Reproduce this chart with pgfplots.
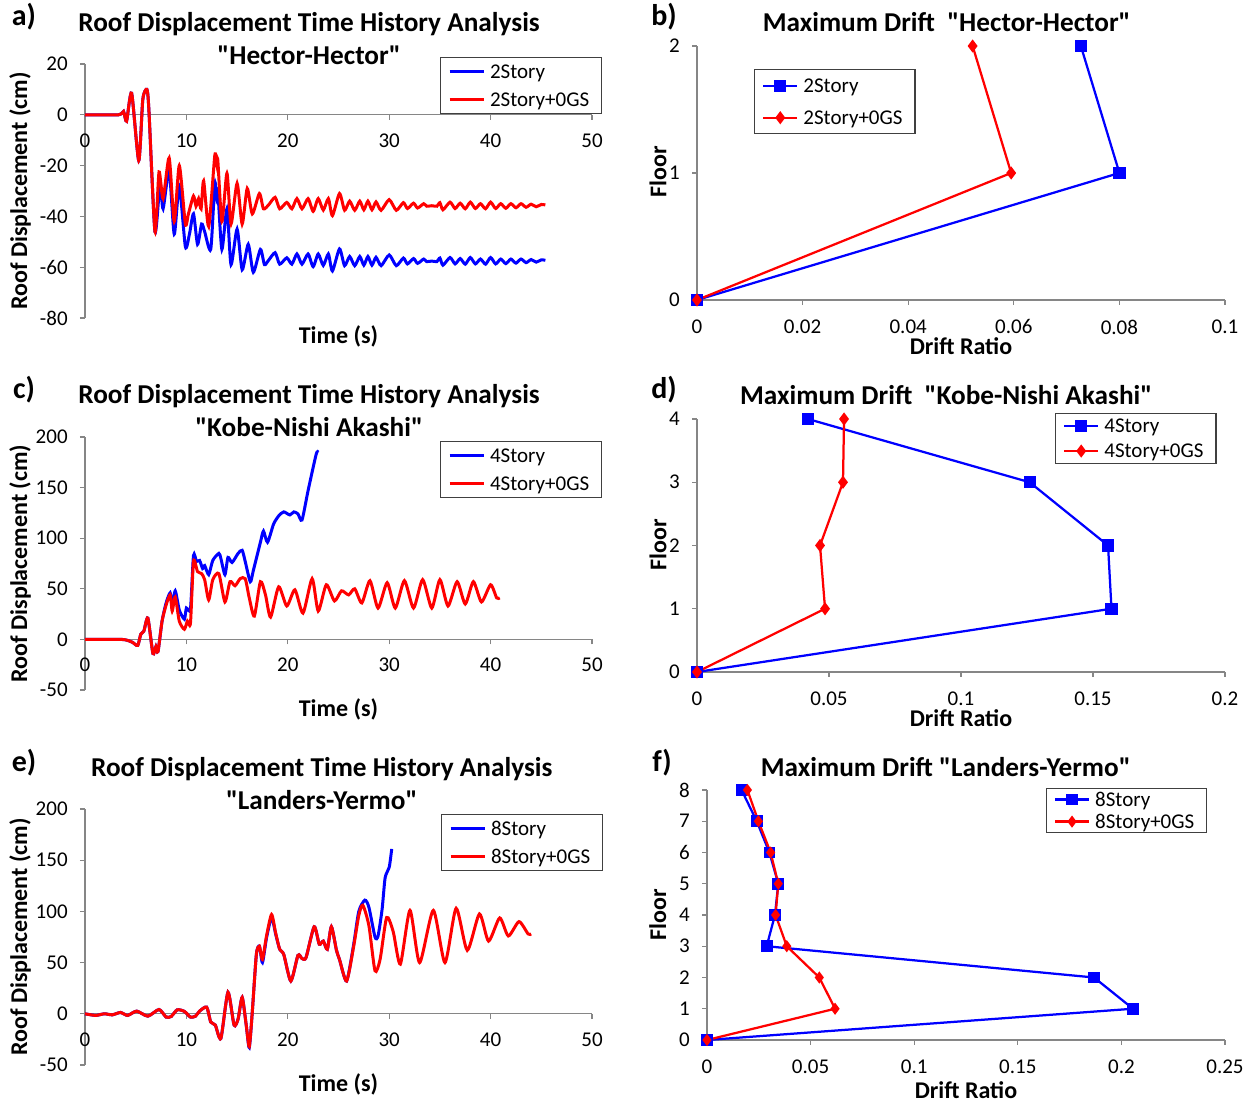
\documentclass[border=0pt]{standalone}
\usepackage{fontspec}
\setmainfont{Carlito}[Ligatures=TeXOff]
\usepackage{pgfplots}
\pgfplotsset{compat=1.18}
\definecolor{axgray}{RGB}{134,134,134}

\pgfplotsset{
  base/.style={
    scale only axis, clip=false, anchor=south west,
    axis line style={draw=axgray, line width=0.5pt},
    tick style={draw=axgray, line width=0.5pt},
    major tick length=2pt, tick align=outside,
    tick label style={font=\fontsize{8.4}{10}\selectfont, text=black},
    yticklabel style={xshift=-1.4pt},
    /pgf/number format/assume math mode=true,
    label style={font=\bfseries\fontsize{9.6}{11}\selectfont},
    every axis title shift=0pt,
    title style={font=\bfseries\fontsize{10.9}{13.2}\selectfont, align=center, anchor=center},
    legend style={draw=black!75, line width=0.5pt, fill=white, inner xsep=3pt, inner ysep=0pt,
      font=\fontsize{8.4}{10}\selectfont, anchor=north west, cells={anchor=west}, row sep=0pt},
  },
  th/.style={base, width=202.8pt, xmin=0, xmax=50, xtick={0,10,...,50},
    axis x line*=middle, axis y line*=left,
    hide obscured x ticks=false, hide obscured y ticks=false,
    xticklabel style={yshift=-2pt},
    xlabel={Time (s)}, ylabel={Roof Displacement (cm)},
    ylabel style={at={(axis description cs:-0.128,0.5)}, anchor=center},
    legend image code/.code={\draw[##1] (0pt,0pt) -- (13.6pt,0pt);},
    every axis plot/.append style={line width=1.2pt, smooth, tension=0.4, no markers},
  },
  dr/.style={base, axis x line*=bottom, axis y line*=left,
    xticklabel style={yshift=-2.4pt},
    xlabel={Drift Ratio}, ylabel={Floor},
    legend image code/.code={\draw[##1, mark repeat=2, mark phase=2] plot coordinates {(0pt,0pt) (6.8pt,0pt) (13.6pt,0pt)};},
    every axis plot/.append style={line width=0.9pt},
  },
  bl/.style={color=blue, mark=square*, mark size=2pt, mark options={solid}},
  rd/.style={color=red, mark=diamond*, mark size=1.9pt, mark options={solid}},
}

\begin{document}
\begin{tikzpicture}
\useasboundingbox (0,0) rectangle (500.8pt,441.2pt);

% ---------- a) Hector time history
\begin{axis}[th, at={(34pt,314pt)}, height=101.6pt,
  ymin=-80, ymax=20, ytick={-80,-60,-40,-20,0,20}, yticklabels={-80,-60,-40,-20,0,20},
  title={Roof Displacement Time History Analysis\\"Hector-Hector"},
  title style={at={(axis description cs:0.442,1.102)}},
  xlabel style={at={(axis description cs:0.5,-0.071)}, anchor=center},
  legend style={at={(axis description cs:0.700,1.028)}, nodes={inner ysep=0pt, text height=8.25pt, text depth=2.95pt}},
]
\addplot[blue] coordinates {
(0,0) (3.3,0) (3.8,1.3) (4.1,-2.5) (4.6,8.5) (5.3,-18) (5.7,6) (6.1,10) (6.3,2) (6.9,-46)
(7.4,-27) (7.7,-37) (8.3,-22) (8.8,-47) (9.3,-28) (9.9,-52) (10.3,-47) (10.7,-39) (11.1,-51)
(11.5,-43) (11.8,-46) (12.4,-53) (12.8,-27) (13.0,-33) (13.1,-30) (13.5,-53) (14.0,-37)
(14.4,-59) (15.0,-45) (15.5,-61) (16.1,-51) (16.6,-62) (17.3,-53) (17.7,-59)
(18.1,-57.3) (18.75,-54.3) (19.2,-58.8) (19.9,-56.3) (20.4,-58.8) (20.9,-54.8) (21.4,-58.8)
(22.0,-54.8) (22.5,-59.8) (23.0,-54.8) (23.5,-59.3) (24.0,-54.8) (24.4,-61.5) (25.1,-52.8)
(25.6,-59.4) (26.1,-55.8) (26.6,-59.4) (27.1,-55.8) (27.5,-59.2) (27.9,-55.8) (28.3,-59.2)
(28.7,-56.1) (29.2,-59.4) (30.0,-55.2) (30.7,-59.4) (31.4,-56.4) (31.8,-58.7) (32.4,-56.6)
(32.8,-58.5) (33.4,-56.8) (33.7,-57.8) (34.2,-57.6) (34.7,-57.8) (35.0,-56.4) (35.3,-59.2)
(36.0,-56.2) (36.5,-58.7) (37.0,-56.6) (37.5,-58.8) (38.0,-56.2) (38.5,-58.7) (39.0,-56.8)
(39.5,-58.8) (40.0,-56.2) (40.5,-58.7) (41.0,-56.8) (41.5,-58.6) (42.0,-56.8) (42.5,-58.4)
(43.0,-56.8) (43.5,-58.2) (44.0,-57) (44.5,-58) (45.0,-57.1) (45.4,-57.3)
};
\addplot[red] coordinates {
(0,0) (3.3,0) (3.8,1.3) (4.1,-2.5) (4.6,8.5) (5.3,-18) (5.7,6) (6.1,10) (6.3,2) (6.9,-46)
(7.3,-22.5) (7.7,-33) (8.3,-17) (8.8,-42) (9.3,-20) (9.9,-43) (10.2,-39) (10.7,-32)
(10.95,-36) (11.2,-33) (11.45,-37) (11.7,-26) (12.2,-44) (12.8,-16) (13.0,-19.5) (13.1,-18)
(13.5,-42) (14.0,-23) (14.4,-43) (15.0,-27) (15.5,-43) (16.0,-29) (16.5,-39) (17.2,-31)
(17.6,-37) (18.1,-35.5) (18.75,-32.5) (19.2,-37) (19.9,-34.5) (20.4,-37) (20.9,-33) (21.4,-37)
(22.0,-33) (22.5,-38) (23.0,-33) (23.5,-37.5) (24.0,-33) (24.4,-39.7) (25.1,-31) (25.6,-37.6)
(26.1,-34) (26.6,-37.6) (27.1,-34) (27.5,-37.4) (27.9,-34) (28.3,-37.4) (28.7,-34.3) (29.2,-37.6)
(30.0,-33.4) (30.7,-37.6) (31.4,-34.6) (31.8,-36.9) (32.4,-34.8) (32.8,-36.7) (33.4,-35)
(33.7,-36) (34.2,-35.8) (34.7,-36) (35.0,-34.6) (35.3,-37.4) (36.0,-34.4) (36.5,-36.9)
(37.0,-34.8) (37.5,-37) (38.0,-34.4) (38.5,-36.9) (39.0,-35) (39.5,-37) (40.0,-34.4)
(40.5,-36.9) (41.0,-35) (41.5,-36.8) (42.0,-35) (42.5,-36.6) (43.0,-35) (43.5,-36.4)
(44.0,-35.2) (44.5,-36.2) (45.0,-35.3) (45.4,-35.5)
};
\legend{2Story, 2Story+0GS}
\end{axis}

% ---------- c) Kobe time history
\begin{axis}[th, at={(34pt,165.2pt)}, height=101.2pt,
  ymin=-50, ymax=200, ytick={-50,0,50,100,150,200}, yticklabels={-50,0,50,100,150,200},
  title={Roof Displacement Time History Analysis\\"Kobe-Nishi Akashi"},
  title style={at={(axis description cs:0.442,1.103)}},
  xlabel style={at={(axis description cs:0.5,-0.075)}, anchor=center},
  legend style={at={(axis description cs:0.700,0.984)}, nodes={inner ysep=0pt, text height=8.25pt, text depth=2.95pt}},
]
\addplot[blue] coordinates {
(0,0) (3.5,0) (4.2,-1) (4.7,-3) (5.2,-6) (5.5,5) (5.8,8) (6.2,21) (6.7,-14) (7.0,-7)
(7.2,-12) (7.6,18) (8.0,36) (8.4,46) (8.6,33) (8.9,48) (9.3,29) (9.8,20) (10.0,31) (10.4,30)
(10.7,83) (11.0,77) (11.3,78) (11.6,70) (11.8,73) (12.2,64) (12.6,78) (13.2,85) (13.4,80)
(13.8,64) (14.1,81) (14.5,76) (15.1,85) (15.5,88) (15.8,77) (16.3,57) (16.6,68) (17.3,96)
(17.6,107) (18.0,96) (18.6,114) (19.1,122) (19.6,126) (20.2,123) (20.6,126) (21.0,124)
(21.4,118) (22.0,147) (22.8,183) (23.0,185)
};
\addplot[red] coordinates {
(0,0) (3.5,0) (4.2,-1) (4.7,-3) (5.2,-6) (5.5,5) (5.8,8) (6.2,21) (6.7,-14) (7.0,-7)
(7.2,-12) (7.6,18) (8.0,34) (8.4,44) (8.6,28) (8.9,42) (9.3,18) (9.8,10) (10.1,18) (10.4,16)
(10.7,77) (11.1,67) (11.5,65) (11.8,59) (12.2,39) (12.6,59) (13.2,65) (13.8,37) (14.3,57)
(14.8,53) (15.3,60) (15.8,60) (16.2,41) (16.7,23) (17.3,57) (17.8,44) (18.3,22) (19.1,52)
(19.9,33) (20.7,49) (21.5,26) (22.4,60) (23.0,28) (23.8,54) (24.6,38) (25.3,48) (26.0,44)
(26.6,50) (27.3,36) (28.1,58) (28.9,31) (29.8,56) (30.6,31) (31.5,58) (32.4,31) (33.3,59)
(34.2,31) (35.0,59) (35.8,33) (36.7,57) (37.5,35) (38.3,57) (39.1,37) (40.0,54) (40.6,41)
(40.9,41)
};
\legend{4Story, 4Story+0GS}
\end{axis}

% ---------- e) Landers time history
\begin{axis}[th, at={(34pt,15.2pt)}, height=102.4pt,
  ymin=-50, ymax=200, ytick={-50,0,50,100,150,200}, yticklabels={-50,0,50,100,150,200},
  title={Roof Displacement Time History Analysis\\"Landers-Yermo"},
  title style={at={(axis description cs:0.467,1.10)}},
  xlabel style={at={(axis description cs:0.5,-0.074)}, anchor=center},
  legend style={at={(axis description cs:0.702,0.980)}, nodes={inner ysep=0pt, text height=8.25pt, text depth=2.95pt}},
]
\addplot[blue] coordinates {
(0,0) (1.05,-1.6) (1.9,0) (2.7,-1) (3.5,1.3) (4.2,-1.6) (5.1,2.6) (6.2,-2.3) (7.3,4.2)
(8.0,-3.2) (8.5,-2.6) (9.1,3.9) (9.8,2.3) (10.4,-3.2) (10.9,-2.3) (11.3,2.6) (12.0,6.5)
(12.4,-8) (12.85,-11) (13.4,-24) (14.1,21) (14.7,-11) (15.1,-5) (15.5,16) (15.9,-11)
(16.2,-33) (16.5,2) (16.9,58) (17.2,66) (17.5,50) (17.9,74) (18.4,94) (18.8,78) (19.2,63)
(19.6,58) (20.3,32) (21.0,57) (21.4,54) (21.8,55) (22.6,85) (23.1,68) (23.5,71) (23.9,63)
(24.3,85) (24.8,62) (25.1,53) (25.8,32) (26.5,68) (27.0,100) (27.6,111) (28.0,104)
(28.6,75) (28.9,76) (29.3,102) (29.6,133) (30.0,143) (30.25,161)
};
\addplot[red] coordinates {
(0,0) (1.05,-1.6) (1.9,0) (2.7,-1) (3.5,1.3) (4.2,-1.6) (5.1,2.6) (6.2,-2.3) (7.3,4.2)
(8.0,-3.2) (8.5,-2.6) (9.1,3.9) (9.8,2.3) (10.4,-3.2) (10.9,-2.3) (11.3,2.6) (12.0,6.5)
(12.4,-8) (12.85,-11) (13.4,-24) (14.1,21) (14.7,-11) (15.1,-5) (15.5,16) (15.9,-11)
(16.2,-32) (16.5,2) (16.9,58) (17.2,66) (17.5,53) (17.9,76) (18.4,97) (18.8,79) (19.2,63)
(19.6,58) (20.3,32) (21.0,57) (21.4,54) (21.8,55) (22.6,85) (23.1,68) (23.5,71) (23.9,63)
(24.3,85) (24.8,62) (25.1,53) (25.8,32) (26.5,66) (27.0,96) (27.4,106) (28.0,86) (28.6,42)
(29.1,53) (29.75,94) (30.4,80) (31.1,48.5) (32.05,101) (33.0,50) (34.35,101) (35.5,50)
(36.6,103) (37.7,62) (38.9,97.5) (39.8,71) (40.9,93.6) (41.75,76) (42.8,90) (43.7,78) (44.0,78)
};
\legend{8Story, 8Story+0GS}
\end{axis}

% ---------- b) Hector drift
\begin{axis}[dr, at={(278.8pt,321.2pt)}, width=211.2pt, height=101.6pt,
  xmin=0, xmax=0.1, xtick={0,0.02,0.04,0.06,0.08,0.1}, xticklabels={0,0.02,0.04,0.06,0.08,0.1},
  ymin=0, ymax=2, ytick={0,1,2}, yticklabels={0,1,2},
  title={Maximum Drift\ \ "Hector-Hector"},
  title style={at={(axis description cs:0.473,1.094)}},
  xlabel style={at={(axis description cs:0.5,-0.181)}, anchor=center},
  ylabel style={at={(axis description cs:-0.074,0.504)}, anchor=center},
  legend style={at={(axis description cs:0.108,0.909)}, nodes={inner ysep=0pt, text height=9.05pt, text depth=3.75pt}},
]
\addplot[bl] coordinates {(0,0) (0.08,1) (0.0727,2)};
\addplot[rd] coordinates {(0,0) (0.0595,1) (0.0522,2)};
\legend{2Story, 2Story+0GS}
\end{axis}

% ---------- d) Kobe drift
\begin{axis}[dr, at={(278.8pt,172.4pt)}, width=211.2pt, height=101.2pt,
  xmin=0, xmax=0.2, xtick={0,0.05,0.1,0.15,0.2}, xticklabels={0,0.05,0.1,0.15,0.2},
  ymin=0, ymax=4, ytick={0,1,2,3,4}, yticklabels={0,1,2,3,4},
  title={Maximum Drift\ \ "Kobe-Nishi Akashi"},
  title style={at={(axis description cs:0.472,1.095)}},
  xlabel style={at={(axis description cs:0.5,-0.182)}, anchor=center},
  ylabel style={at={(axis description cs:-0.074,0.502)}, anchor=center},
  legend style={at={(axis description cs:0.678,1.024)}, nodes={inner ysep=0pt, text height=7.65pt, text depth=2.35pt}},
]
\addplot[bl] coordinates {(0,0) (0.157,1) (0.1557,2) (0.126,3) (0.042,4)};
\addplot[rd] coordinates {(0,0) (0.0485,1) (0.0466,2) (0.0553,3) (0.0557,4)};
\legend{4Story, 4Story+0GS}
\end{axis}

% ---------- f) Landers drift
\begin{axis}[dr, at={(282.8pt,25.2pt)}, width=207.2pt, height=100pt,
  xmin=0, xmax=0.25, xtick={0,0.05,0.1,0.15,0.2,0.25}, xticklabels={0,0.05,0.1,0.15,0.2,0.25},
  ymin=0, ymax=8, ytick={0,1,...,8}, yticklabels={0,1,2,3,4,5,6,7,8},
  title={Maximum Drift "Landers-Yermo"},
  title style={at={(axis description cs:0.461,1.092)}},
  xlabel style={at={(axis description cs:0.5,-0.2)}, anchor=center},
  ylabel style={at={(axis description cs:-0.095,0.5)}, anchor=center},
  legend style={at={(axis description cs:0.654,1.008)}, nodes={inner ysep=0pt, text height=7.05pt, text depth=1.75pt}},
]
\addplot[bl, mark size=1.9pt] coordinates {(0,0) (0.2056,1) (0.1868,2) (0.0288,3) (0.0328,4) (0.0344,5) (0.0301,6) (0.024,7) (0.0167,8)};
\addplot[rd, mark size=1.7pt] coordinates {(0,0) (0.0618,1) (0.0542,2) (0.0385,3) (0.0331,4) (0.0344,5) (0.0307,6) (0.0248,7) (0.0195,8)};
\legend{8Story, 8Story+0GS}
\end{axis}

% panel letters
\node[font=\bfseries\fontsize{12}{14}\selectfont] at (9.6pt,434.4pt) {a)};
\node[font=\bfseries\fontsize{12}{14}\selectfont] at (265.6pt,434.4pt) {b)};
\node[font=\bfseries\fontsize{12}{14}\selectfont] at (9.6pt,285.2pt) {c)};
\node[font=\bfseries\fontsize{12}{14}\selectfont] at (265.6pt,285.2pt) {d)};
\node[font=\bfseries\fontsize{12}{14}\selectfont] at (9.6pt,136pt) {e)};
\node[font=\bfseries\fontsize{12}{14}\selectfont] at (264.8pt,136pt) {f)};
\end{tikzpicture}
\end{document}
